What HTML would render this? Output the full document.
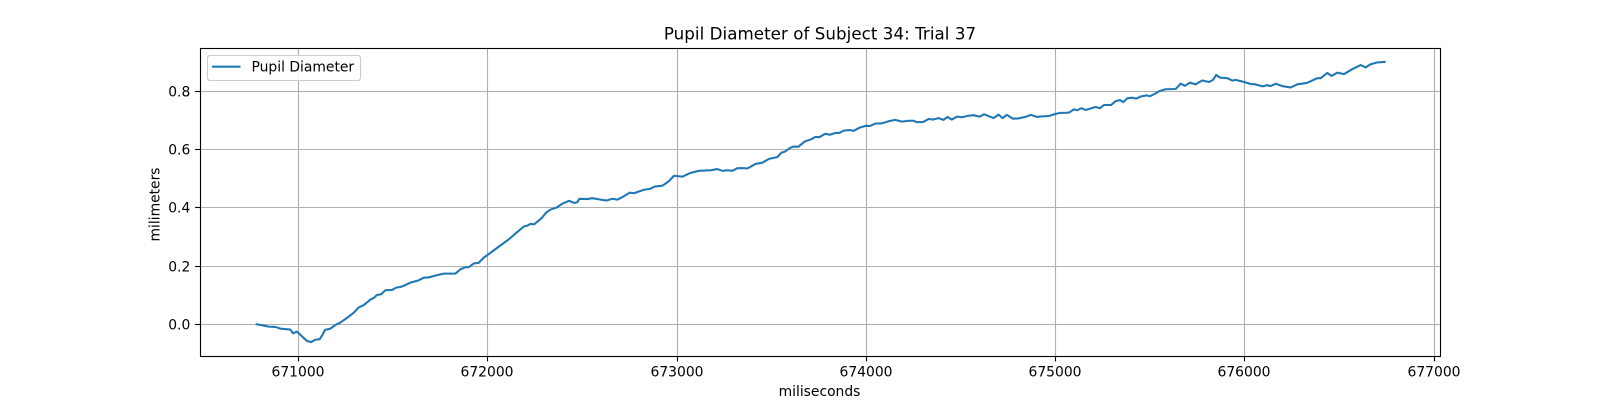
<!DOCTYPE html>
<html lang="en">
<head>
<meta charset="utf-8">
<title>Pupil Diameter of Subject 34: Trial 37</title>
<style>
html,body{margin:0;padding:0;background:#fff;width:1600px;height:400px;overflow:hidden}
svg{display:block}
text{font-family:"DejaVu Sans","Liberation Sans",sans-serif;fill:#000}
</style>
</head>
<body>
<svg id="chart" xmlns="http://www.w3.org/2000/svg" width="1600" height="400" viewBox="0 0 1600 400">
  <rect x="0" y="0" width="1600" height="400" fill="#fff"/>
  <rect x="200" y="48" width="1240" height="308" fill="#fff"/>
  <g id="grid"></g>
  <path id="series" fill="none" stroke="#1f77b4" stroke-width="2.08" stroke-linejoin="round" stroke-linecap="square"/>
  <g id="ticks"></g>
  <rect x="200.5" y="48.5" width="1240" height="308" fill="none" stroke="#000" stroke-width="1.11"/>
  <text x="820" y="39.7" font-size="16.67" letter-spacing="0.06" text-anchor="middle">Pupil Diameter of Subject 34: Trial 37</text>
  <text x="819.5" y="396" font-size="13.89" text-anchor="middle">miliseconds</text>
  <text transform="translate(159.5 204.5) rotate(-90)" font-size="13.89" text-anchor="middle">milimeters</text>
  <g>
    <rect x="207.5" y="55.5" width="153" height="25" rx="2.8" ry="2.8" fill="#fff" fill-opacity="0.8" stroke="#ccc" stroke-width="1.11"/>
    <line x1="212" y1="66.7" x2="240.5" y2="66.7" stroke="#1f77b4" stroke-width="2.08"/>
    <text x="251.5" y="71.5" font-size="13.89">Pupil Diameter</text>
  </g>
</svg>
<script>
const times = [670778,670806,670841,670877,670903,670956,670970,670991,671018,671044,671065,671088,671111,671125,671139,671167,671194,671220,671255,671291,671317,671344,671379,671396,671414,671435,671458,671493,671515,671537,671555,671590,671634,671661,671687,671740,671766,671828,671855,671881,671899,671925,671951,671978,672004,672060,672111,672146,672190,672208,672226,672243,672270,672287,672308,672331,672363,672393,672428,672455,672472,672483,672525,672552,672596,672627,672657,672684,672719,672749,672772,672798,672825,672856,672881,672922,672957,672983,673027,673071,673115,673177,673212,673239,673265,673292,673318,673353,673371,673415,673450,673485,673529,673552,673570,673597,673614,673641,673672,673711,673729,673752,673782,673808,673834,673857,673878,673914,673931,673963,673993,674019,674046,674081,674116,674152,674187,674222,674248,674266,674301,674328,674354,674381,674407,674428,674451,674478,674504,674539,674566,674597,674622,674645,674671,674698,674719,674742,674774,674803,674839,674869,674900,674927,674962,674997,675024,675050,675070,675096,675114,675135,675158,675184,675211,675234,675255,675293,675316,675339,675357,675378,675404,675427,675448,675480,675498,675528,675549,675581,675634,675660,675683,675709,675739,675774,675810,675831,675848,675868,675907,675933,675954,676000,676030,676056,676092,676118,676136,676162,676197,676241,676277,676329,676382,676400,676435,676458,676488,676523,676567,676611,676638,676664,676698,676738];
const pupilDiameter = [0,-0.003,-0.008,-0.009,-0.015,-0.018,-0.031,-0.025,-0.042,-0.057,-0.061,-0.053,-0.051,-0.037,-0.019,-0.015,-0.002,0.006,0.022,0.040,0.058,0.066,0.085,0.090,0.101,0.103,0.117,0.118,0.126,0.128,0.132,0.143,0.151,0.160,0.161,0.170,0.174,0.174,0.189,0.196,0.196,0.209,0.211,0.229,0.241,0.268,0.292,0.312,0.336,0.339,0.345,0.343,0.357,0.367,0.384,0.394,0.401,0.414,0.424,0.417,0.419,0.431,0.430,0.433,0.428,0.425,0.431,0.428,0.440,0.452,0.450,0.456,0.462,0.465,0.473,0.476,0.492,0.510,0.507,0.520,0.527,0.529,0.533,0.527,0.529,0.527,0.536,0.536,0.535,0.551,0.555,0.568,0.574,0.590,0.593,0.606,0.610,0.610,0.627,0.636,0.643,0.643,0.654,0.651,0.657,0.657,0.665,0.667,0.664,0.675,0.681,0.681,0.689,0.690,0.697,0.702,0.696,0.699,0.699,0.694,0.695,0.705,0.703,0.708,0.702,0.712,0.703,0.713,0.711,0.716,0.718,0.713,0.721,0.715,0.708,0.720,0.708,0.719,0.706,0.707,0.712,0.719,0.712,0.714,0.715,0.722,0.726,0.726,0.727,0.738,0.735,0.742,0.736,0.741,0.746,0.742,0.753,0.753,0.766,0.770,0.763,0.776,0.778,0.775,0.782,0.786,0.783,0.793,0.801,0.807,0.808,0.826,0.819,0.830,0.824,0.837,0.832,0.839,0.856,0.847,0.845,0.837,0.839,0.831,0.825,0.824,0.817,0.821,0.818,0.826,0.818,0.813,0.824,0.829,0.845,0.845,0.863,0.853,0.864,0.859,0.876,0.890,0.882,0.893,0.899,0.901];
const xTickValues = [671000,672000,673000,674000,675000,676000,677000];
const yTickValues = [0,0.2,0.4,0.6,0.8];
const yTickLabels = ["0.0","0.2","0.4","0.6","0.8"];
const xDomain = [670478.5,677030.6];
const yDomain = [-0.1088,0.9487];

const NS = 'http://www.w3.org/2000/svg';
function xScale(t){ return 200 + (t - xDomain[0]) / (xDomain[1] - xDomain[0]) * 1240; }
function yScale(v){ return 356 - (v - yDomain[0]) / (yDomain[1] - yDomain[0]) * 308; }
function snap(p){ return Math.floor(p) + 0.5; }
function makeLine(x1, y1, x2, y2, color){
  const l = document.createElementNS(NS, 'line');
  l.setAttribute('x1', x1);
  l.setAttribute('y1', y1);
  l.setAttribute('x2', x2);
  l.setAttribute('y2', y2);
  l.setAttribute('stroke', color);
  l.setAttribute('stroke-width', '1.11');
  return l;
}
const gridGroup = document.getElementById('grid');
const tickGroup = document.getElementById('ticks');

xTickValues.forEach(function(t){
  const x = snap(xScale(t));
  const g = makeLine(x, 48, x, 356, '#b0b0b0');
  
  
  gridGroup.appendChild(g);
  const k = makeLine(x, 356, x, 361.4, '#000');
  
  
  tickGroup.appendChild(k);
  const s = document.createElementNS(NS, 'text');
  
  
  s.setAttribute('x', x - 0.5);
  s.setAttribute('y', 376.5);
  s.setAttribute('font-size', '13.89');
  s.setAttribute('text-anchor', 'middle');
  s.textContent = String(t);
  tickGroup.appendChild(s);
});

yTickValues.forEach(function(v, i){
  const y = snap(yScale(v));
  const g = makeLine(200, y, 1440, y, '#b0b0b0');
  
  
  gridGroup.appendChild(g);
  const k = makeLine(195.1, y, 200, y, '#000');
  
  
  tickGroup.appendChild(k);
  const s = document.createElementNS(NS, 'text');
  
  
  s.setAttribute('x', 190.3);
  s.setAttribute('y', y + 5);
  s.setAttribute('font-size', '13.89');
  s.setAttribute('text-anchor', 'end');
  s.textContent = yTickLabels[i];
  tickGroup.appendChild(s);
});

document.getElementById('series').setAttribute('d', times.map(function(t, i){
  return (i ? 'L' : 'M') + xScale(t).toFixed(2) + ' ' + yScale(pupilDiameter[i]).toFixed(2);
}).join(''));
</script>
</body>
</html>
